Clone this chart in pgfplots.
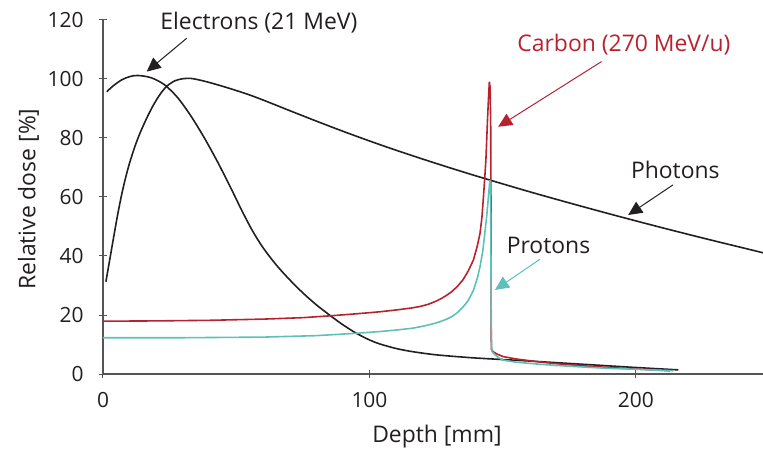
\documentclass[border=0pt]{standalone}
\usepackage{pgfplots}
\pgfplotsset{compat=1.18}
\usepackage{fontspec}
\setmainfont{Open Sans}
\usetikzlibrary{arrows.meta}
\definecolor{cred}{HTML}{B5232F}
\definecolor{ccyan}{HTML}{5DC1B9}
\definecolor{cblack}{HTML}{231F20}
\definecolor{caxis}{HTML}{555555}
\begin{document}
\begin{tikzpicture}[font=\fontsize{23}{27}\selectfont]
\begin{axis}[
  scale only axis,
  width=660bp, height=354bp,
  xmin=0, xmax=247.7, ymin=0, ymax=120,
  axis x line*=bottom, axis y line*=left,
  axis line style={caxis, line width=1.2bp},
  tick style={caxis, line width=1bp},
  tick align=center, major tick length=8bp,
  xtick={0,100,200}, ytick={0,20,...,120},
  /pgf/number format/assume math mode=true,
  ticklabel style={font=\fontsize{21}{25}\selectfont, text=cblack},
  xticklabel style={yshift=-11bp},
  yticklabel style={xshift=-12bp},
  xlabel={Depth [mm]}, ylabel={Relative dose [\%]},
  xlabel style={at={(axis description cs:0.506,-0.178)}, anchor=center, text=cblack},
  ylabel style={at={(axis description cs:-0.113,0.494)}, anchor=center, text=cblack},
  clip=false,
  every axis plot/.append style={line width=1.6bp, no marks},
]
% Photons
\addplot[cblack, smooth, tension=0.5] coordinates {
(1.1,31.3)(2.5,38.6)(4,46.4)(5.5,54)(7,60.8)(8.5,66.6)(10,71.6)(12,77.2)(14,81.9)(16.5,86.9)(19,91.3)(21.5,94.9)(24,97.6)(27,99.4)(30,100.1)(33,100.2)(36,99.7)(40,98.8)(45,97.5)(50,96.1)(55,94.6)(60,92.9)(66.4,90.6)(70,89.3)(80,85.75)(90,82.3)(100,79.0)(110,75.85)(120,72.85)(130,69.95)(140,67.15)(150,64.45)(160,61.8)(170,59.25)(180,56.75)(190,54.3)(200,51.9)(210,49.55)(220,47.25)(230,45.0)(240,42.8)(247.7,41.1)};
% Electrons
\addplot[cblack, smooth, tension=0.5] coordinates {
(1.4,95.7)(4,97.8)(7,99.7)(10,100.8)(13,101.2)(18,100.45)(23,98.1)(28,93.7)(33,87.45)(38,80.1)(43,71.9)(48,63.0)(52,55.6)(56,48.7)(60,42.9)(65,37.0)(70,32.0)(75,27.5)(80,23.5)(85,20.0)(90,16.7)(95,13.85)(100,11.55)(104,10.15)(110,8.65)(116,7.6)(125,6.5)(137,5.6)(145,5.15)(160,4.4)(180,3.3)(200,2.2)(215.9,1.4)};
% Carbon
\addplot[cred] coordinates {
(0,17.9)(20,18.0)(40,18.2)(60,18.6)(75,19.1)(85,19.7)(95,20.4)(104,21.1)(110,21.7)(116,22.4)(119,22.9)(122,23.6)(125,24.7)(127,25.6)(129,26.7)(131,28.0)(133,29.7)(135,31.8)(137,34.8)(139,38.6)(140.5,43.5)(141.5,47.7)(142.2,53)(142.7,59)(143.2,65.5)(143.7,72.5)(144.3,86)(144.7,94)(145,99.1)(145.3,97)(145.5,85)(145.6,60)(145.65,30)(145.7,12)(145.8,8.3)(146.5,7.5)(148,6.7)(150.2,5.9)(155,5.1)(162.7,4.2)(170,3.5)(181.5,2.7)(190,2.2)(200,1.7)(212.8,1.1)};
% Protons
\addplot[ccyan] coordinates {
(0,12.3)(30,12.3)(60,12.5)(80,13.0)(95,13.8)(104,14.4)(110,14.9)(116,15.5)(119,16.0)(122,16.6)(125,17.3)(127,17.9)(129,18.6)(131,19.5)(133,20.8)(135,22.6)(137,24.8)(139,28.3)(140.5,32.5)(141.5,36.4)(142.5,41.5)(143.3,47.7)(144,53.5)(144.6,59.5)(145.2,65.8)(145.45,63)(145.6,40)(145.7,20)(145.8,10)(146,7.6)(147,6.6)(148.5,5.5)(150.2,4.7)(155,4.0)(162.7,3.4)(170,2.9)(181.5,2.3)(190,1.9)(200,1.6)(214,1.1)};
% annotations
\node[cblack] at (axis cs:58.5,119) {Electrons (21 MeV)};
\draw[cblack, line width=1bp, -{Triangle[length=14bp,width=13bp]}] (axis cs:31.4,113.8) -- (axis cs:16.4,102.5);
\node[cred] at (axis cs:195.5,111.5) {Carbon (270 MeV/u)};
\draw[cred, line width=1bp, -{Triangle[length=14bp,width=13bp]}] (axis cs:187.1,105.9) -- (axis cs:148.3,83.8);
\node[cblack] at (axis cs:214.8,69.2) {Photons};
\draw[cblack, line width=1bp, -{Triangle[length=14bp,width=13bp]}] (axis cs:213.9,64.1) -- (axis cs:197.1,53.9);
\node[cblack] at (axis cs:167.2,43.7) {Protons};
\draw[ccyan, line width=1bp, -{Triangle[length=14bp,width=13bp]}] (axis cs:164,38.9) -- (axis cs:147.1,28.5);
\coordinate (bl) at (axis cs:0,0);
\end{axis}
\pgfresetboundingbox
\path (bl) ++(-103bp,-76bp) rectangle ++(763bp,450bp);
\end{tikzpicture}
\end{document}
